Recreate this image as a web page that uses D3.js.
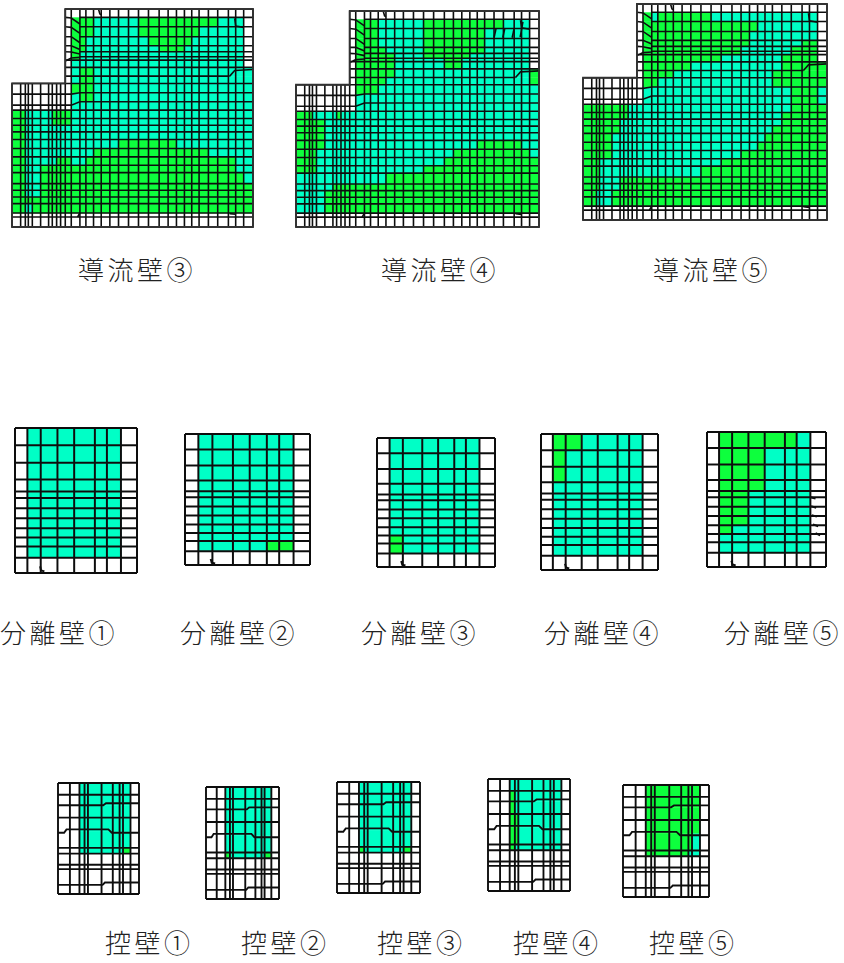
<!DOCTYPE html>
<html>
  <head>
    <meta charset="utf-8" />
    <title>壁面 応力分布</title>
    <script src="https://d3js.org/d3.v7.min.js"></script>
    <style>
        body { margin:0; background:#fff; }
        text { font-family:"Noto Sans CJK JP"; font-weight:300; font-size:26px; letter-spacing:3.5px; fill:#222; }
    </style>
  </head>
  <body>
    <svg id="viz" width="844" height="963">
      <defs><filter id="soft"><feGaussianBlur stdDeviation="0.35"></feGaussianBlur></filter></defs>
    </svg>
    <script>
        // mesh lines, in units of the drawing
        var largeCols = [36,62,76,85,97,122,146,157,170,182,196,214,240,258,281,304,330,356,386,416,446,478,505,530,554,576,598,626,654,686,708,732,760];
        var largeRows = [27,52,80,110,137,155,170,180,202,228,250,278,305,330,355,375,395,418,445,470,495,517,550,570,590,610,638,650,680];
        var sepColsA = [45,82,122,172,222,284,320,362,410];
        var sepColsB = [45,84,125,185,234,284,320,362,410];
        var sepRows = [23,75,128,178,214,234,265,295,325,353,380,414,460];
        var ctrlCols = [27,62,90,105,115,155,188,208,218,240,265];
        var ctrlRows = [22,57,88,125,165,215,232,265,278,322,352];

        // bent mesh lines
        var largeBends = [
            [[196,52],[214,54],[240,72]], [[196,80],[214,82],[240,100]], [[196,110],[214,110],[240,128]],
            [[196,137],[214,137],[240,148]], [[196,155],[214,156],[240,162]], [[196,183],[214,174],[240,172]],
            [[36,282],[214,282],[240,278]], [[36,315],[214,315],[240,305]],
            [[690,228],[705,211],[760,208]], [[705,55],[708,78],[732,82]],
            [[296,28],[300,42],[304,44]], [[240,638],[233,650]], [[690,640],[708,642]]
        ];
        var largeBends4 = [[[632,80],[626,108]], [[658,80],[652,108]], [[686,80],[680,108]], [[712,60],[704,106]]];
        var sepBends = [[[120,440],[123,452],[133,455]]];
        var sepBends5 = [[[362,234],[378,238]], [[364,263],[380,268]], [[366,292],[382,297]], [[370,322],[386,328]], [[378,350],[392,358]]];
        var ctrlBends = [
            [[27,88],[160,88],[168,82],[265,82]],
            [[27,170],[45,170],[52,160],[175,160],[185,170],[265,170]],
            [[27,325],[158,325],[165,318],[265,318]]
        ];

        // cell states by row: count + state, "." no fill, c lower band, g upper band
        var wall3 = ["32.","11.3g5c9g3c1.","11.3g5c7g5c1.","11.2g7c5g6c1.","11.2g8c3g7c1.","11.1g19c1.","11.1g19c1.","11.20c1.",
            "11.1c2g18c","11.1c2g18c","11.3g18c","11.1c2g18c","11.21c","2g5c4g21c","2g5c4g21c","2g30c","2g30c",
            "2g15c6g9c","2g12c13g5c","2g6c3g1c1c17g2c","2g3c25g2c","2g3c26g1c","2g3c27g","2g3c27g","32g","2g2c28g","32.","32."];
        var wall4 = ["32.","11.3g5c9g3c1.","11.3g5c7g5c1.","11.3g5c7g5c1.","11.4g4c7g5c1.","11.5g3c5g7c1.","11.5g5c2g8c1.","11.5g5c2g8c1.",
            "11.5g15c1g","11.4g16c1g","11.3g18c","11.21c","11.21c","3g4c1g24c","5g27c","5g27c","5g27c",
            "5g20c5g2c","4g18c9g1c","4g17c11g","4g15c13g","15c17g","6c26g","5c27g","5c27g","5c27g","32.","32."];
        var wall5 = ["32.","11.1g1c6g12c1.","11.13g7c1.","11.12g8c1.","11.12g6c2g1.","11.11g6c3g1.","11.11g6c3g1.","11.9g7c4g1.",
            "11.6g10c5g","11.4g11c6g","11.2g13c6g","11.17c3g1c","11.17c3g1c","8g20c4g","8g19c5g","6g21c5g","6g20c6g",
            "5g20c7g","5g19c8g","5g17c10g","3g17c12g","3g15c14g","3g3c26g","3g3c26g","2g3c27g","2g3c27g","32.","32."];

        var sepWhite = "8.";
        var sep1 = d3.range(11).map(function(){ return "1.6c1."; }).concat(sepWhite);
        var sep2 = d3.range(10).map(function(){ return "1.6c1."; }).concat("1.4c2g1.", sepWhite);
        var sep3 = d3.range(9).map(function(){ return "1.6c1."; }).concat("1.1g5c1.", "1.1g5c1.", sepWhite);
        var sep4 = ["1.2g4c1.","1.1g5c1.","1.1g5c1."].concat(d3.range(8).map(function(){ return "1.6c1."; }), sepWhite);
        var sep5 = ["1.5g1c1.","1.3g3c1.","1.3g3c1.","1.3g3c1.","1.2g4c1.","1.2g4c1.","1.2g4c1.","1.2g4c1.","1.1g5c1.","1.6c1.","1.6c1.",sepWhite];

        var ctrlWhite = ["10.","10.","10.","10."];
        var ctrl1 = ["2.7c1.","2.7c1.","2.7c1.","2.7c1.","2.7c1.","2.6c1g1."].concat(ctrlWhite);
        var ctrl2 = ["2.7c1.","2.7c1.","2.7c1.","2.7c1.","2.7c1.","2.1g5c1g1."].concat(ctrlWhite);
        var ctrl3 = ["2.7c1.","2.7c1.","2.7c1.","2.7c1.","2.7c1.","2.1g5c1g1."].concat(ctrlWhite);
        var ctrl4 = ["2.7c1.","2.1g6c1.","2.1g6c1.","2.2g5c1.","2.2g5c1.","2.1g6c1."].concat(ctrlWhite);
        var ctrl5 = ["2.7g1.","2.7g1.","2.7g1.","2.7g1.","2.6g1c1.","2.5g2c1."].concat(ctrlWhite);

        var wallLabels = ["導流壁③","導流壁④","導流壁⑤"];
        var sepLabels = ["分離壁①","分離壁②","分離壁③","分離壁④","分離壁⑤"];
        var ctrlLabels = ["控壁①","控壁②","控壁③","控壁④","控壁⑤"];

        var color = {c:"#00ffc6", g:"#0aff3c"};
        var lineColor = "#111";
        var svg = d3.select("#viz");
        var root = svg.append("g").attr("filter","url(#soft)");

        var stepX = 196, stepY = 250;   // re-entrant corner of the 導流壁 outline

        var largeMesh = {
            cols: largeCols, rows: largeRows, width:1.6,
            bends: largeBends,
            vSpan: function(x){ return x < stepX ? [stepY, 680] : [27, 680]; },
            hSpan: function(y, i){
                if (i >= 1 && i <= 6) return [240, 760];
                if (i == 9) return [196, 690];
                if (i == 11 || i == 12) return [240, 760];
                return y < stepY ? [196, 760] : [36, 760];
            }
        };
        function sepMesh(cols, extra) {
            return {cols:cols, rows:sepRows, width:2, bends:sepBends.concat(extra || [])};
        }
        var ctrlMesh = {
            cols: ctrlCols, rows: ctrlRows, width:1.9, bends: ctrlBends,
            hSpan: function(y, i){ return (i == 2 || i == 4 || i == 9) ? null : [27, 265]; }
        };

        function draw(mesh, states, frame, outline) {
            var cols = mesh.cols, rows = mesh.rows;
            var x = d3.scaleLinear().domain([cols[0], cols[cols.length-1]]).range([frame[0], frame[1]]);
            var y = d3.scaleLinear().domain([rows[0], rows[rows.length-1]]).range([frame[2], frame[3]]);
            var g = root.append("g");

            var cells = [];
            states.forEach(function(s, r){
                var c = 0;
                (s.match(/\d+[.cg]/g) || []).forEach(function(run){
                    var n = parseInt(run), k = run.slice(-1);
                    d3.range(n).forEach(function(){
                        if (k != "." && c < cols.length-1) cells.push({c:c, r:r, k:k});
                        c++;
                    });
                });
            });
            g.selectAll("rect").data(cells).enter().append("rect")
                .attr("x", function(d){ return x(cols[d.c]); })
                .attr("y", function(d){ return y(rows[d.r]); })
                .attr("width", function(d){ return x(cols[d.c+1]) - x(cols[d.c]) + 0.3; })
                .attr("height", function(d){ return y(rows[d.r+1]) - y(rows[d.r]) + 0.3; })
                .attr("fill", function(d){ return color[d.k]; });

            var line = d3.line().x(function(p){ return x(p[0]); }).y(function(p){ return y(p[1]); });
            var paths = [];
            cols.forEach(function(c){
                var s = mesh.vSpan ? mesh.vSpan(c) : [rows[0], rows[rows.length-1]];
                paths.push([[c, s[0]], [c, s[1]]]);
            });
            rows.forEach(function(r, i){
                var s = mesh.hSpan ? mesh.hSpan(r, i) : [cols[0], cols[cols.length-1]];
                if (s) paths.push([[s[0], r], [s[1], r]]);
            });
            mesh.bends.forEach(function(b){ paths.push(b); });

            g.selectAll("path.mesh").data(paths).enter().append("path")
                .attr("class","mesh")
                .attr("d", line)
                .attr("fill","none")
                .attr("stroke", lineColor)
                .attr("stroke-width", mesh.width);

            if (outline) {
                g.append("path").attr("d", line(outline) + "Z")
                    .attr("fill","none").attr("stroke", "#333").attr("stroke-width", 1.8);
            }
        }

        var largeOutline = [[36,250],[196,250],[196,27],[760,27],[760,680],[36,680]];
        var large4 = Object.assign({}, largeMesh, {bends: largeBends.concat(largeBends4)});

        draw(largeMesh, wall3, [12,253,9,227], largeOutline);
        draw(large4, wall4, [296,539,11,227], largeOutline);
        draw(largeMesh, wall5, [583,827,4,220], largeOutline);

        draw(sepMesh(sepColsA), sep1, [15,137,428,573]);
        draw(sepMesh(sepColsB), sep2, [185,310,434,565]);
        draw(sepMesh(sepColsB), sep3, [377,495,438,567]);
        draw(sepMesh(sepColsA), sep4, [541,658,434,570]);
        draw(sepMesh(sepColsA, sepBends5), sep5, [707,826,432,567]);

        draw(ctrlMesh, ctrl1, [58,139,783,894]);
        draw(ctrlMesh, ctrl2, [206,279,787,899]);
        draw(ctrlMesh, ctrl3, [337,420,782,893]);
        draw(ctrlMesh, ctrl4, [488,570,779,891]);
        draw(ctrlMesh, ctrl5, [623,709,785,897]);

        function labels(list, xs, y) {
            svg.selectAll(null).data(list).enter().append("text")
                .attr("x", function(d,i){ return xs[i]; })
                .attr("y", y)
                .attr("dominant-baseline","central")
                .text(function(d){ return d; });
        }
        labels(wallLabels, [78,381,653], 268);
        labels(sepLabels, [0,180,361,544,724], 631);
        labels(ctrlLabels, [105,241,377,513,649], 941);
    </script>
  </body>
</html>
